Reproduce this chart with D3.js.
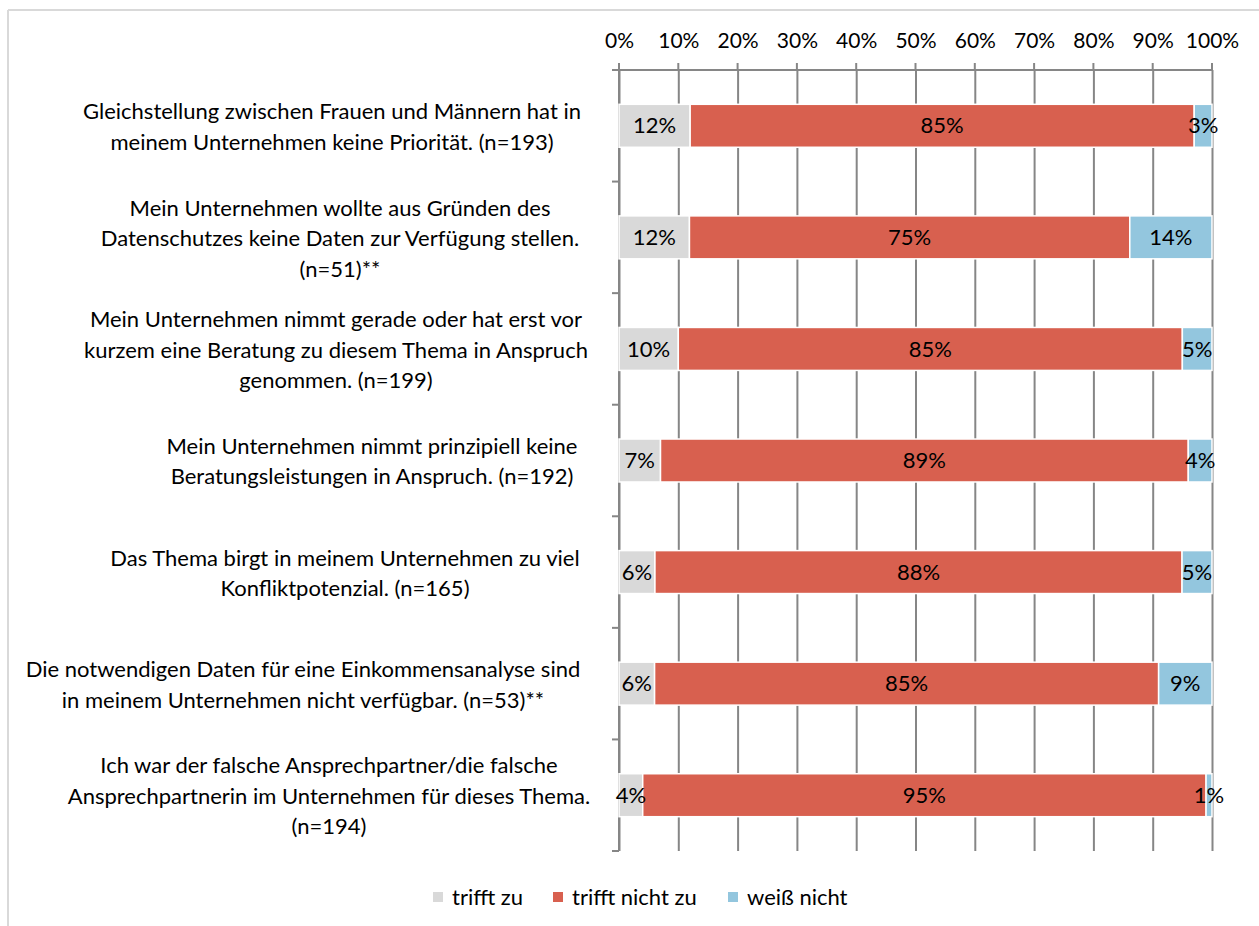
<!DOCTYPE html>
<html>
<head>
<meta charset="utf-8">
<script src="https://cdn.jsdelivr.net/npm/d3@7"></script>
<style>
  body { margin: 0; background: #fff; }
  text { font-family: "Lato", "Open Sans", sans-serif; fill: #000; }
</style>
</head>
<body>
<div id="chart-area"></div>
<script>

var width = 1259,
    height = 926;

// categories (line breaks as in the original labels)
var categories = [
  "Gleichstellung zwischen Frauen und Männern hat in\nmeinem Unternehmen keine Priorität. (n=193)",
  "Mein Unternehmen wollte aus Gründen des\nDatenschutzes keine Daten zur Verfügung stellen.\n(n=51)**",
  "Mein Unternehmen nimmt gerade oder hat erst vor\nkurzem eine Beratung zu diesem Thema in Anspruch\ngenommen. (n=199)",
  "Mein Unternehmen nimmt prinzipiell keine\nBeratungsleistungen in Anspruch. (n=192)",
  "Das Thema birgt in meinem Unternehmen zu viel\nKonfliktpotenzial. (n=165)",
  "Die notwendigen Daten für eine Einkommensanalyse sind\nin meinem Unternehmen nicht verfügbar. (n=53)**",
  "Ich war der falsche Ansprechpartner/die falsche\nAnsprechpartnerin im Unternehmen für dieses Thema.\n(n=194)"
];

var trifftZu      = [12, 12, 10, 7, 6, 6, 4];
var trifftNichtZu = [85, 75, 85, 89, 88, 85, 95];
var weissNicht    = [3, 14, 5, 4, 5, 9, 1];

var seriesNames = ["trifft zu", "trifft nicht zu", "weiß nicht"];
var seriesKeys = ["zu", "nicht", "wn"];
var colors = ["#d9d9d9", "#d8604f", "#93c6de"];

var xTicks = [0, 0.1, 0.2, 0.3, 0.4, 0.5, 0.6, 0.7, 0.8, 0.9, 1];

// where each wrapped label block is centred (Excel places them a bit unevenly)
var labelCenter = [332, 340, 336, 372, 345, 303, 329];

var rows = categories.map(function(c, i) {
  return { cat: c, zu: trifftZu[i], nicht: trifftNichtZu[i], wn: weissNicht[i] };
});

var svg = d3.select("#chart-area").append("svg")
    .attr("width", width)
    .attr("height", height);

// outer frame (top + left only visible)
svg.append("line").attr("x1", 8).attr("x2", width).attr("y1", 10).attr("y2", 10)
  .style("stroke", "#d9d9d9").style("stroke-width", 2);
svg.append("line").attr("x1", 8).attr("x2", 8).attr("y1", 10).attr("y2", height)
  .style("stroke", "#d9d9d9").style("stroke-width", 2);

var plotTop = 70, plotBottom = 851;

var x = d3.scaleLinear().domain([0, 1]).range([619, 1212]);
var y = d3.scaleBand()
    .domain(d3.range(categories.length))
    .range([plotTop, plotBottom])
    .paddingInner(0.615)
    .paddingOuter(0.3075);

var gridColor = "#868686";

// top axis with gridlines
var xAxis = d3.axisTop(x)
    .tickValues(xTicks)
    .tickFormat(d3.format(".0%"))
    .tickSizeInner(-(plotBottom - plotTop))
    .tickSizeOuter(0)
    .tickPadding(22);

var gx = svg.append("g")
    .attr("transform", "translate(0," + plotTop + ")")
    .call(xAxis);
gx.select(".domain").remove();
gx.selectAll(".tick line").style("stroke", gridColor).style("stroke-width", 2);
gx.selectAll(".tick text").style("font-size", "21px").style("fill", "#000")
  .style("font-family", "Lato, 'Open Sans', sans-serif");

// little tick marks above the axis line
svg.selectAll(".uptick")
  .data(xTicks)
  .enter().append("line")
  .attr("class", "uptick")
  .attr("x1", d => x(d)).attr("x2", d => x(d))
  .attr("y1", plotTop - 7).attr("y2", plotTop)
  .style("stroke", gridColor).style("stroke-width", 2);

// axis lines
svg.append("line").attr("x1", x(0) - 7).attr("x2", x(1)).attr("y1", plotTop).attr("y2", plotTop)
  .style("stroke", gridColor).style("stroke-width", 2);
svg.append("line").attr("x1", x(0)).attr("x2", x(0)).attr("y1", plotTop).attr("y2", plotBottom)
  .style("stroke", gridColor).style("stroke-width", 2);

// category tick marks on the left axis
var bounds = d3.range(categories.length + 1).map(function(i) {
  return plotTop + i * y.step();
});
svg.selectAll(".ctick")
  .data(bounds)
  .enter().append("line")
  .attr("class", "ctick")
  .attr("x1", x(0) - 7).attr("x2", x(0))
  .attr("y1", d => d).attr("y2", d => d)
  .style("stroke", gridColor).style("stroke-width", 2);

// stacked bars (100%)
var stack = d3.stack().keys(seriesKeys).offset(d3.stackOffsetExpand);
var series = stack(rows);

var layer = svg.selectAll(".layer")
  .data(series)
  .enter().append("g")
  .attr("class", "layer")
  .style("fill", (d, i) => colors[i]);

layer.selectAll("rect")
  .data(d => d)
  .enter().append("rect")
  .attr("x", d => x(d[0]))
  .attr("y", (d, i) => y(i))
  .attr("width", d => x(d[1]) - x(d[0]))
  .attr("height", y.bandwidth())
  .style("stroke", "#fff")
  .style("stroke-width", 1.5);

// value labels
series.forEach(function(s) {
  svg.selectAll(".lbl-" + s.key)
    .data(s)
    .enter().append("text")
    .attr("class", "lbl-" + s.key)
    .attr("x", d => (x(d[0]) + x(d[1])) / 2)
    .attr("y", (d, i) => y(i) + y.bandwidth() / 2)
    .attr("dy", "0.35em")
    .attr("text-anchor", "middle")
    .style("font-size", "22px")
    .text(d => d.data[s.key] + "%");
});

// category labels
var lineH = 30.5;
categories.forEach(function(c, i) {
  var lines = c.split("\n");
  var cy = y(i) + y.bandwidth() / 2 + 1;
  var t = svg.append("text")
    .attr("text-anchor", "middle")
    .style("font-size", "22px");
  lines.forEach(function(l, j) {
    t.append("tspan")
      .attr("x", labelCenter[i])
      .attr("y", cy + (j - (lines.length - 1) / 2) * lineH)
      .attr("dy", "0.35em")
      .text(l);
  });
});

// legend
var legendX = [433, 553, 728];
var legend = svg.selectAll(".legend")
  .data(seriesNames)
  .enter().append("g")
  .attr("class", "legend")
  .attr("transform", (d, i) => "translate(" + legendX[i] + ",892)");
legend.append("rect")
  .attr("width", 10).attr("height", 10)
  .style("fill", (d, i) => colors[i]);
legend.append("text")
  .attr("x", 19).attr("y", 5)
  .attr("dy", "0.35em")
  .style("font-size", "22px")
  .text(d => d);

</script>
</body>
</html>
